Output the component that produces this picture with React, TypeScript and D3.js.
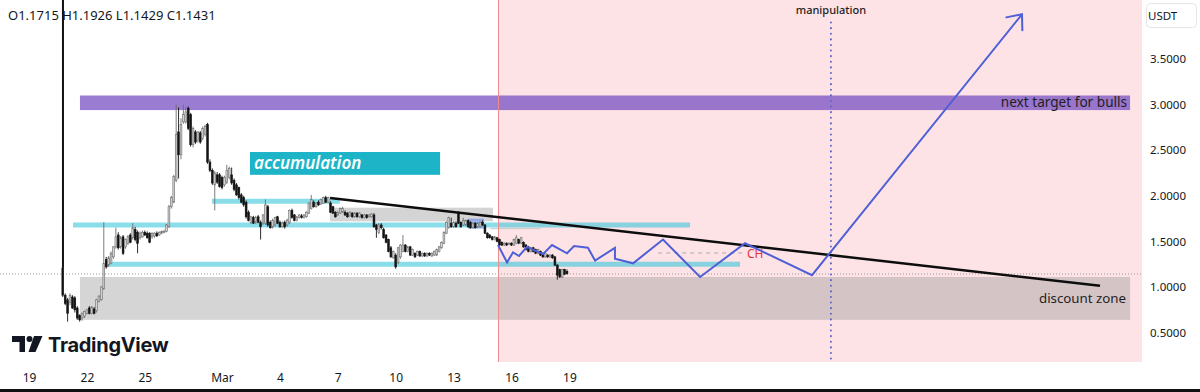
import React, { useEffect, useRef } from "react";
import * as d3 from "d3";

const W = 1200;
const H = 392;
const PLOT_RIGHT = 1142;
const PLOT_BOTTOM = 362;
const FONT = "'Noto Sans', 'Open Sans', sans-serif";

// days are counted from Feb 19 2023 (UTC), candles are 3h
const dayZero = Date.UTC(2023, 1, 19);
const at = (d: number) => new Date(dayZero + d * 864e5);
const firstCandleDay = 1.75;
const candleStep = 0.125;

// [open, high, low, close]
const ohlc: number[][] = [
  [1.21,1.22,0.89,0.91],[0.91,0.93,0.80,0.82],[0.86,0.88,0.62,0.71],[0.83,0.93,0.80,0.91],[0.89,0.91,0.76,0.77],
  [0.88,0.90,0.72,0.75],[0.77,0.79,0.64,0.66],[0.69,0.70,0.62,0.64],[0.66,0.72,0.63,0.71],[0.68,0.74,0.66,0.73],
  [0.71,0.76,0.70,0.75],[0.77,0.79,0.70,0.71],[0.71,0.79,0.70,0.78],[0.76,0.78,0.70,0.71],[0.74,0.87,0.72,0.86],
  [0.84,0.91,0.83,0.90],[0.86,1.01,0.85,1.00],[0.98,1.71,0.97,1.26],[1.30,1.33,1.20,1.22],[1.24,1.34,1.22,1.32],
  [1.26,1.39,1.25,1.37],[1.33,1.45,1.31,1.44],[1.44,1.65,1.42,1.55],[1.57,1.60,1.41,1.43],[1.44,1.56,1.42,1.54],
  [1.55,1.57,1.35,1.37],[1.44,1.53,1.42,1.52],[1.48,1.57,1.46,1.55],[1.57,1.59,1.48,1.49],[1.54,1.70,1.52,1.65],
  [1.63,1.66,1.50,1.52],[1.60,1.62,1.37,1.48],[1.54,1.61,1.52,1.59],[1.55,1.62,1.54,1.60],[1.60,1.62,1.56,1.57],
  [1.59,1.61,1.53,1.54],[1.59,1.60,1.48,1.49],[1.55,1.60,1.53,1.59],[1.56,1.60,1.54,1.59],[1.59,1.61,1.55,1.56],
  [1.57,1.61,1.56,1.60],[1.59,1.62,1.58,1.61],[1.60,1.63,1.59,1.61],[1.61,1.69,1.60,1.68],[1.66,1.90,1.65,1.88],
  [1.88,2.00,1.86,1.98],[1.93,2.23,1.92,2.21],[2.17,3.00,2.15,2.67],[2.70,2.97,2.19,2.45],[2.45,2.85,2.40,2.78],
  [2.81,3.00,2.79,2.89],[2.81,2.97,2.79,2.92],[2.96,2.98,2.72,2.74],[2.89,2.91,2.54,2.56],[2.56,2.76,2.53,2.74],
  [2.70,2.72,2.57,2.59],[2.61,2.71,2.58,2.70],[2.69,2.71,2.57,2.59],[2.63,2.76,2.61,2.74],[2.67,2.78,2.65,2.76],
  [2.78,2.80,2.35,2.37],[2.37,2.40,2.26,2.28],[2.28,2.30,2.12,2.14],[2.12,2.27,1.84,2.25],[2.23,2.26,2.13,2.15],
  [2.23,2.25,2.09,2.10],[2.20,2.22,2.07,2.09],[2.12,2.22,2.10,2.20],[2.15,2.34,2.13,2.28],[2.20,2.32,2.18,2.30],
  [2.23,2.31,2.12,2.14],[2.17,2.19,2.05,2.07],[2.12,2.14,2.00,2.01],[2.09,2.10,1.96,1.98],[2.01,2.03,1.92,1.93],
  [1.98,2.00,1.88,1.90],[1.93,1.95,1.75,1.77],[1.82,1.84,1.72,1.73],[1.71,1.78,1.69,1.77],[1.76,1.78,1.69,1.70],
  [1.71,1.78,1.69,1.76],[1.77,1.79,1.70,1.71],[1.71,1.73,1.52,1.66],[1.70,1.80,1.68,1.79],[1.70,1.96,1.68,1.90],
  [1.88,1.90,1.66,1.68],[1.71,1.73,1.64,1.65],[1.66,1.75,1.64,1.73],[1.68,1.77,1.66,1.76],[1.77,1.78,1.69,1.70],
  [1.71,1.73,1.65,1.66],[1.66,1.72,1.65,1.70],[1.71,1.73,1.64,1.66],[1.68,1.75,1.66,1.73],[1.71,1.85,1.69,1.84],
  [1.84,1.86,1.75,1.76],[1.79,1.80,1.72,1.73],[1.73,1.78,1.72,1.77],[1.76,1.80,1.75,1.79],[1.78,1.80,1.75,1.76],
  [1.76,1.80,1.75,1.79],[1.77,1.83,1.76,1.82],[1.81,1.93,1.80,1.92],[1.86,2.01,1.85,1.96],[1.93,1.95,1.87,1.88],
  [1.88,1.93,1.87,1.92],[1.93,1.95,1.89,1.90],[1.91,1.97,1.90,1.96],[1.92,1.99,1.91,1.98],[1.98,2.00,1.92,1.93],
  [1.93,1.99,1.92,1.98],[1.92,1.94,1.81,1.82],[1.88,1.89,1.80,1.81],[1.82,1.83,1.76,1.77],[1.79,1.83,1.78,1.82],
  [1.81,1.87,1.80,1.86],[1.82,1.88,1.81,1.86],[1.82,1.84,1.78,1.79],[1.81,1.82,1.76,1.77],[1.78,1.83,1.77,1.82],
  [1.81,1.82,1.76,1.77],[1.77,1.82,1.76,1.81],[1.81,1.82,1.76,1.77],[1.77,1.82,1.76,1.81],[1.79,1.80,1.75,1.76],
  [1.76,1.80,1.75,1.79],[1.79,1.80,1.75,1.76],[1.77,1.80,1.76,1.79],[1.77,1.81,1.76,1.80],[1.79,1.81,1.65,1.66],
  [1.68,1.69,1.54,1.63],[1.60,1.70,1.58,1.68],[1.68,1.70,1.63,1.65],[1.63,1.65,1.53,1.54],[1.57,1.58,1.48,1.49],
  [1.52,1.53,1.38,1.39],[1.43,1.45,1.32,1.33],[1.32,1.40,1.31,1.39],[1.35,1.37,1.20,1.22],[1.27,1.44,1.25,1.43],
  [1.33,1.47,1.31,1.46],[1.39,1.57,1.38,1.46],[1.46,1.47,1.38,1.39],[1.39,1.45,1.38,1.44],[1.44,1.45,1.34,1.35],
  [1.35,1.42,1.34,1.41],[1.37,1.38,1.32,1.33],[1.35,1.40,1.34,1.39],[1.39,1.40,1.33,1.34],[1.34,1.38,1.33,1.37],
  [1.37,1.38,1.33,1.34],[1.34,1.38,1.33,1.37],[1.37,1.38,1.34,1.35],[1.34,1.38,1.33,1.37],[1.35,1.40,1.34,1.39],
  [1.35,1.42,1.34,1.41],[1.39,1.45,1.38,1.44],[1.43,1.50,1.42,1.49],[1.48,1.61,1.47,1.60],[1.59,1.72,1.58,1.71],
  [1.65,1.77,1.64,1.76],[1.70,1.76,1.65,1.66],[1.66,1.72,1.65,1.71],[1.70,1.72,1.65,1.66],[1.81,1.83,1.69,1.70],
  [1.71,1.72,1.65,1.66],[1.68,1.76,1.67,1.73],[1.68,1.74,1.67,1.73],[1.73,1.74,1.65,1.66],[1.71,1.72,1.64,1.65],
  [1.65,1.71,1.64,1.70],[1.70,1.71,1.64,1.65],[1.66,1.71,1.65,1.70],[1.66,1.72,1.65,1.71],[1.71,1.73,1.67,1.68],
  [1.68,1.69,1.58,1.59],[1.59,1.60,1.53,1.54],[1.57,1.58,1.53,1.54],[1.55,1.56,1.51,1.52],[1.52,1.56,1.51,1.55],
  [1.54,1.55,1.49,1.50],[1.52,1.53,1.45,1.46],[1.49,1.50,1.45,1.46],[1.46,1.49,1.45,1.48],[1.48,1.49,1.45,1.46],
  [1.47,1.49,1.46,1.48],[1.48,1.49,1.45,1.46],[1.46,1.53,1.45,1.52],[1.48,1.57,1.47,1.54],[1.52,1.53,1.47,1.48],
  [1.48,1.55,1.47,1.54],[1.49,1.50,1.43,1.44],[1.46,1.47,1.40,1.41],[1.44,1.45,1.38,1.39],[1.39,1.44,1.38,1.43],
  [1.43,1.44,1.38,1.39],[1.41,1.42,1.36,1.37],[1.37,1.42,1.36,1.41],[1.39,1.40,1.34,1.35],[1.37,1.38,1.32,1.33],
  [1.33,1.38,1.32,1.37],[1.35,1.36,1.32,1.33],[1.33,1.36,1.32,1.35],[1.35,1.36,1.31,1.32],[1.33,1.34,1.23,1.24],
  [1.24,1.25,1.08,1.13],[1.19,1.20,1.10,1.11],[1.11,1.20,1.10,1.19],[1.19,1.20,1.13,1.14],[1.1715,1.1926,1.1429,1.1431],
];

const dateTicks = ["2023-02-19","2023-02-22","2023-02-25","2023-03-01","2023-03-04","2023-03-07","2023-03-10","2023-03-13","2023-03-16","2023-03-19"];
const priceTicks = [0.5, 1, 1.5, 2, 2.5, 3, 3.5];

// drawings: [day, price]
const projection: number[][] = [
  [24.30,1.46],[24.77,1.27],[25.08,1.38],[25.39,1.34],[25.80,1.44],[26.63,1.36],[27.10,1.46],[27.88,1.37],
  [28.24,1.45],[28.96,1.43],[29.33,1.29],[30.36,1.43],[30.36,1.31],[31.30,1.26],[32.85,1.52],[34.77,1.11],
  [37.10,1.48],[40.57,1.13],[51.45,3.99],
];
const trendLine: number[][] = [[15.60,1.976],[55.49,1.013]];
// [fromDay, toDay, price]
const levels: number[][] = [[9.48,16.1,1.94],[2.28,34.25,1.68],[3.94,36.84,1.25]];
// [fromDay, toDay, low, high]
const targetZone = [2.64, 57.05, 2.94, 3.10];
const discountZone = [2.64, 57.05, 0.64, 1.11];
const accumulationBox = [11.45, 21.30, 2.23, 2.48];
const supplyBox = [15.6, 24.04, 1.72, 1.87];
const orderBlock = [22.75, 23.58, 1.64, 1.75];
const chLevel = [32.6, 37.1, 1.373];
const sessionDay = 24.30;
const manipulationDay = 41.55;
const markerDay = 1.76;
const markerLow = 1.21;
const last = { o: 1.1715, h: 1.1926, l: 1.1429, c: 1.1431 };

export default function App() {
  const ref = useRef<SVGSVGElement>(null);

  useEffect(() => {
    const svg = d3.select(ref.current);
    svg.selectAll("*").remove();

    const x = d3.scaleUtc().domain([at(0), at(28)]).range([29, 569.4]);
    const y = d3.scaleLinear().domain([0.5, 3.5]).range([332.6, 59]);
    const X = (d: number) => x(at(d));

    svg.append("rect").attr("width", W).attr("height", H).attr("fill", "#fff");

    // future session
    svg.append("rect")
      .attr("x", X(sessionDay)).attr("y", 0)
      .attr("width", PLOT_RIGHT - X(sessionDay)).attr("height", PLOT_BOTTOM)
      .attr("fill", "#fde3e6");

    const zone = (z: number[], fill: string) =>
      svg.append("rect")
        .attr("x", X(z[0])).attr("y", y(z[3]))
        .attr("width", X(z[1]) - X(z[0])).attr("height", y(z[2]) - y(z[3]))
        .attr("fill", fill);

    zone(discountZone, "rgba(150,150,150,0.4)");
    zone(targetZone, "rgba(120,80,195,0.75)");
    zone(supplyBox, "rgba(160,160,160,0.45)");
    zone(orderBlock, "rgba(110,140,240,0.6)");

    svg.selectAll(".level")
      .data(levels)
      .join("line")
      .attr("class", "level")
      .attr("x1", d => X(d[0])).attr("x2", d => X(d[1]))
      .attr("y1", d => y(d[2])).attr("y2", d => y(d[2]))
      .attr("stroke", "rgba(40,195,215,0.55)")
      .attr("stroke-width", 5);

    svg.append("line")
      .attr("x1", X(23.9)).attr("x2", X(26.5))
      .attr("y1", y(1.64)).attr("y2", y(1.64))
      .attr("stroke", "#c8c8c8").attr("stroke-width", 1);

    // accumulation label box
    zone(accumulationBox, "#1db4c8");
    svg.append("text")
      .attr("x", X(accumulationBox[0]) + 4)
      .attr("y", (y(accumulationBox[2]) + y(accumulationBox[3])) / 2 + 6)
      .attr("fill", "#fff")
      .attr("font-family", FONT)
      .attr("font-style", "italic")
      .attr("font-weight", 600)
      .attr("font-size", 17)
      .text("accumulation");

    svg.append("line")
      .attr("x1", X(sessionDay) + 0.5).attr("x2", X(sessionDay) + 0.5)
      .attr("y1", 0).attr("y2", PLOT_BOTTOM)
      .attr("stroke", "#ee8c8c").attr("stroke-width", 1);

    // last price crosshair
    svg.append("line")
      .attr("x1", 0).attr("x2", PLOT_RIGHT)
      .attr("y1", y(last.c)).attr("y2", y(last.c))
      .attr("stroke", "#9a9a9a").attr("stroke-width", 1)
      .attr("stroke-dasharray", "1 2");

    svg.append("line")
      .attr("x1", X(markerDay)).attr("x2", X(markerDay))
      .attr("y1", 0).attr("y2", y(markerLow))
      .attr("stroke", "#111").attr("stroke-width", 2);

    // candles
    const candles = svg.append("g");
    const cx = (i: number) => X(firstCandleDay + i * candleStep);
    candles.selectAll(".wick")
      .data(ohlc)
      .join("line")
      .attr("class", "wick")
      .attr("x1", (d, i) => cx(i)).attr("x2", (d, i) => cx(i))
      .attr("y1", d => y(d[1])).attr("y2", d => y(d[2]))
      .attr("stroke", d => (d[3] >= d[0] ? "#6e6e6e" : "#151515"))
      .attr("stroke-width", 0.9);
    candles.selectAll(".body")
      .data(ohlc)
      .join("rect")
      .attr("class", "body")
      .attr("x", (d, i) => cx(i) - 0.9)
      .attr("width", 1.8)
      .attr("y", d => y(Math.max(d[0], d[3])))
      .attr("height", d => Math.max(0.8, Math.abs(y(d[0]) - y(d[3]))))
      .attr("fill", d => (d[3] >= d[0] ? "#d2d2d2" : "#141414"))
      .attr("stroke", d => (d[3] >= d[0] ? "#707070" : "#141414"))
      .attr("stroke-width", 0.6);

    svg.append("line")
      .attr("x1", X(trendLine[0][0])).attr("y1", y(trendLine[0][1]))
      .attr("x2", X(trendLine[1][0])).attr("y2", y(trendLine[1][1]))
      .attr("stroke", "#0d0d0d").attr("stroke-width", 2.5);

    // CH dashed level
    svg.append("line")
      .attr("x1", X(chLevel[0])).attr("x2", X(chLevel[1]))
      .attr("y1", y(chLevel[2])).attr("y2", y(chLevel[2]))
      .attr("stroke", "#a9a9a9").attr("stroke-width", 1)
      .attr("stroke-dasharray", "4 4");
    svg.append("text")
      .attr("x", X(chLevel[1]) + 2).attr("y", y(chLevel[2]) + 5)
      .attr("fill", "#e8333a").attr("font-family", FONT).attr("font-size", 12)
      .text("CH");

    // manipulation
    svg.append("line")
      .attr("x1", X(manipulationDay)).attr("x2", X(manipulationDay))
      .attr("y1", y(3.90)).attr("y2", PLOT_BOTTOM)
      .attr("stroke", "#5a66cc").attr("stroke-width", 2)
      .attr("stroke-linecap", "round")
      .attr("stroke-dasharray", "0.1 5.5");
    svg.append("text")
      .attr("x", X(manipulationDay)).attr("y", 14)
      .attr("text-anchor", "middle")
      .attr("fill", "#1e1e1e").attr("font-family", FONT)
      .attr("font-size", 11).attr("font-weight", 500)
      .text("manipulation");

    // projected path + arrow
    const pts = projection.map(p => [X(p[0]), y(p[1])] as [number, number]);
    svg.append("path")
      .attr("d", d3.line()(pts))
      .attr("fill", "none")
      .attr("stroke", "#4f5fd6").attr("stroke-width", 2)
      .attr("stroke-linejoin", "miter");
    const [tx, ty] = pts[pts.length - 1];
    const [px, py] = pts[pts.length - 2];
    const ang = Math.atan2(py - ty, px - tx);
    const head = [ang - 0.7, ang + 0.7].map(a => [tx + 16 * Math.cos(a), ty + 16 * Math.sin(a)] as [number, number]);
    svg.append("path")
      .attr("d", d3.line()([head[0], [tx, ty], head[1]]))
      .attr("fill", "none")
      .attr("stroke", "#4f5fd6").attr("stroke-width", 2)
      .attr("stroke-linecap", "round");

    // zone labels
    svg.append("text")
      .attr("x", X(targetZone[1]) - 3).attr("y", (y(targetZone[2]) + y(targetZone[3])) / 2 + 4.5)
      .attr("text-anchor", "end").attr("fill", "#1f1f1f")
      .attr("font-family", FONT).attr("font-size", 13.6)
      .text("next target for bulls");
    svg.append("text")
      .attr("x", X(discountZone[1]) - 4).attr("y", 303)
      .attr("text-anchor", "end").attr("fill", "#1f1f1f")
      .attr("font-family", FONT).attr("font-size", 13.3)
      .text("discount zone");

    // OHLC legend
    svg.append("text")
      .attr("x", 8).attr("y", 20)
      .attr("fill", "#131722").attr("font-family", FONT).attr("font-size", 13)
      .text(`O${last.o.toFixed(4)} H${last.h.toFixed(4)} L${last.l.toFixed(4)} C${last.c.toFixed(4)}`);

    // axes
    const xAxis = d3.axisBottom(x)
      .tickValues(dateTicks.map(s => new Date(s + "T00:00:00Z")))
      .tickFormat(d => (d as Date).getUTCDate() === 1 ? d3.utcFormat("%b")(d as Date) : d3.utcFormat("%-d")(d as Date))
      .tickSize(0).tickPadding(3);
    const gx = svg.append("g").attr("transform", "translate(0,370)").call(xAxis);
    gx.select(".domain").remove();
    gx.selectAll("text").attr("font-family", FONT).attr("font-size", 12).attr("fill", "#131722");

    const yAxis = d3.axisRight(y).tickValues(priceTicks).tickFormat(d3.format(".4f")).tickSize(0).tickPadding(8);
    const gy = svg.append("g").attr("transform", `translate(${PLOT_RIGHT},0)`).call(yAxis);
    gy.select(".domain").remove();
    gy.selectAll("text").attr("font-family", FONT).attr("font-size", 11.5).attr("fill", "#131722");

    svg.append("rect")
      .attr("x", 1146.5).attr("y", 3.5).attr("width", 50).attr("height", 24).attr("rx", 4)
      .attr("fill", "#fff").attr("stroke", "#e6e6e6");
    svg.append("text")
      .attr("x", 1148).attr("y", 20)
      .attr("fill", "#131722").attr("font-family", FONT).attr("font-size", 11.5)
      .text("USDT");

    // TradingView watermark
    const logo = svg.append("g").attr("fill", "#131722");
    logo.append("path").attr("d", "M12,336 H25 V352 H19.5 V342 H12 Z");
    logo.append("circle").attr("cx", 29.5).attr("cy", 339).attr("r", 3);
    logo.append("path").attr("d", "M34,336 H42.5 L35.5,352 H28.5 Z");
    logo.append("text")
      .attr("x", 48).attr("y", 351.5)
      .attr("font-family", "Inter, 'Noto Sans', sans-serif")
      .attr("font-weight", 700).attr("font-size", 20)
      .attr("letter-spacing", -0.3)
      .text("TradingView");

    svg.append("rect").attr("x", 0).attr("y", 389).attr("width", W).attr("height", 3).attr("fill", "#111");
  }, []);

  return (
    <svg
      ref={ref}
      width={W}
      height={H}
      style={{ position: "absolute", left: 0, top: 0, display: "block" }}
    />
  );
}
